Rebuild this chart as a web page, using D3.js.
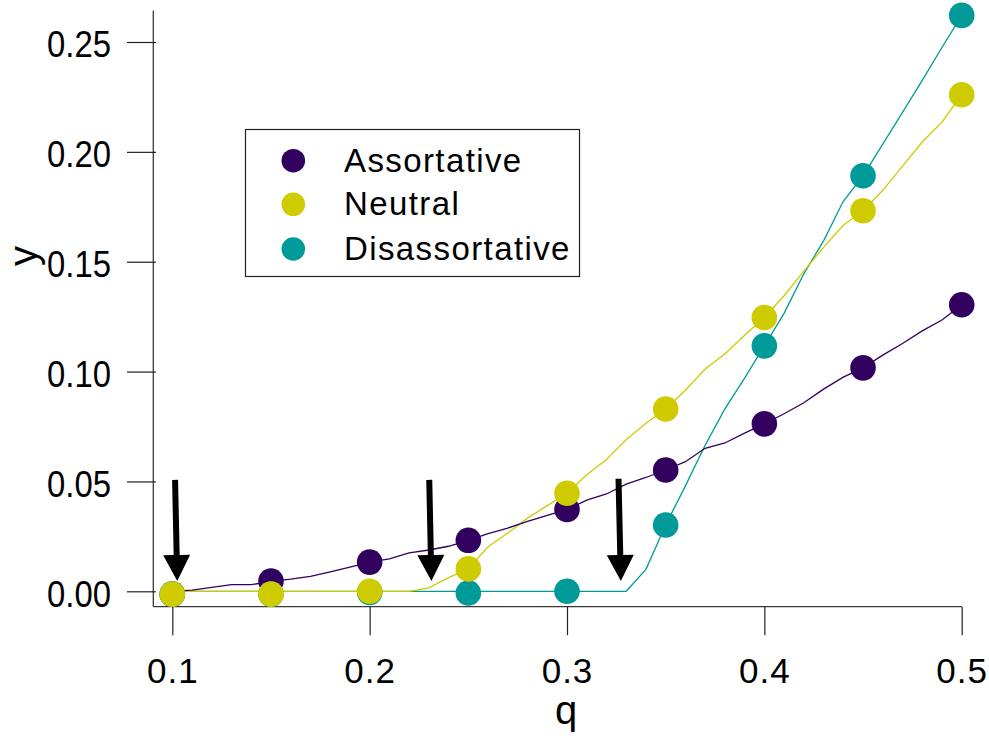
<!DOCTYPE html>
<html>
<head>
<meta charset="utf-8">
<script src="https://cdn.jsdelivr.net/npm/d3@7"></script>
<style>
  body { margin: 0; background: #fff; }
  svg { display: block; font-family: "Liberation Sans", Arial, sans-serif; }
</style>
</head>
<body>
<div class="chart"></div>
<script>
// Set Dimensions
const width = 989, height = 740;

// data - markers
const qDots = [0.10, 0.15, 0.20, 0.25, 0.30, 0.35, 0.40, 0.45, 0.50];
const assortDots = [-0.0013, 0.0047, 0.0133, 0.0232, 0.0372, 0.0552, 0.0762, 0.1017, 0.1304];
const neutralDots = [-0.0013, -0.0013, 0.0, 0.0102, 0.0446, 0.0830, 0.1246, 0.1732, 0.2260];
const disassortDots = [-0.0013, -0.0013, -0.0005, -0.0008, 0.0, 0.0302, 0.1117, 0.1891, 0.2621];

// data - thin lines
const qLine = [0.10, 0.11, 0.12, 0.13, 0.14, 0.15, 0.16, 0.17, 0.18, 0.19,
               0.20, 0.21, 0.22, 0.23, 0.24, 0.25, 0.26, 0.27, 0.28, 0.29,
               0.30, 0.31, 0.32, 0.33, 0.34, 0.35, 0.36, 0.37, 0.38, 0.39,
               0.40, 0.41, 0.42, 0.43, 0.44, 0.45, 0.46, 0.47, 0.48, 0.49, 0.50];
const assortLine = [0.0, 0.0005, 0.0018, 0.0030, 0.0030, 0.0045, 0.0055, 0.0068, 0.0088, 0.0110,
                    0.0133, 0.0148, 0.0175, 0.0188, 0.0205, 0.0232, 0.0262, 0.0288, 0.0318, 0.0345,
                    0.0372, 0.0415, 0.0443, 0.0488, 0.0518, 0.0552, 0.0590, 0.0651, 0.0675, 0.0720,
                    0.0762, 0.0808, 0.0858, 0.0920, 0.0975, 0.1017, 0.1075, 0.1128, 0.1185, 0.1235, 0.1304];
const neutralLine = [0, 0, 0, 0, 0, 0, 0, 0, 0, 0,
                     0, 0, 0, 0.0016, 0.0062, 0.0102, 0.0203, 0.0265, 0.0333, 0.0390,
                     0.0446, 0.0530, 0.0600, 0.0690, 0.0765, 0.0830, 0.0915, 0.1012, 0.1080, 0.1165,
                     0.1246, 0.1345, 0.1457, 0.1565, 0.1666, 0.1732, 0.1825, 0.1935, 0.2045, 0.2135, 0.2260];
const disassortLine = [0, 0, 0, 0, 0, 0, 0, 0, 0, 0,
                       0, 0, 0, 0, 0, 0, 0, 0, 0, 0,
                       0, 0, 0, 0, 0.0100, 0.0302, 0.0480, 0.0665, 0.0830, 0.0970,
                       0.1117, 0.1265, 0.1445, 0.1595, 0.1775, 0.1891, 0.2035, 0.2180, 0.2325, 0.2475, 0.2621];

// arrows (annotation) in data units
const arrowTopQ = [0.1014, 0.2302, 0.3261];
const arrowTipQ = [0.1025, 0.2313, 0.3273];
const arrowTopY = [0.0507, 0.0507, 0.0512];
const arrowTipY = [0.0047, 0.0047, 0.0047];

const xTicks = [0.1, 0.2, 0.3, 0.4, 0.5];
const yTicks = [0.00, 0.05, 0.10, 0.15, 0.20, 0.25];

const seriesNames = ["Assortative", "Neutral", "Disassortative"];
const colors = {Assortative: "#32015f", Neutral: "#cecc00", Disassortative: "#009a98"};

const svg = d3.select(".chart")
    .append("svg")
    .attr("width", width)
    .attr("height", height);

const x = d3.scaleLinear().domain([0.1, 0.5]).range([172.3, 961.7]);
const y = d3.scaleLinear().domain([0, 0.25]).range([591.3, 42]);

// frame lines (left + bottom)
const frameLeft = 153.3, frameBottom = 606.7;
svg.append("line")
    .attr("x1", frameLeft).attr("x2", frameLeft)
    .attr("y1", 10.5).attr("y2", frameBottom)
    .attr("stroke", "#3a3a3a").attr("stroke-width", 1.3);
svg.append("line")
    .attr("x1", frameLeft).attr("x2", x(0.5))
    .attr("y1", frameBottom).attr("y2", frameBottom)
    .attr("stroke", "#3a3a3a").attr("stroke-width", 1.3);

// bottom axis
const gx = svg.append("g")
    .attr("transform", "translate(0," + frameBottom + ")")
    .call(d3.axisBottom(x).tickValues(xTicks).tickSize(28.5).tickPadding(23)
        .tickFormat(d3.format(".1f")));
gx.select(".domain").remove();
gx.selectAll(".tick line").attr("stroke", "#222").attr("stroke-width", 1.2);
gx.selectAll(".tick text")
    .attr("fill", "#000")
    .style("font-size", "35px")
    .style("letter-spacing", "1px");

// left axis
const gy = svg.append("g")
    .attr("transform", "translate(156,0)")
    .call(d3.axisLeft(y).tickValues(yTicks).tickSize(29).tickPadding(16)
        .tickFormat(d3.format(".2f")));
gy.select(".domain").remove();
gy.selectAll(".tick line").attr("stroke", "#222").attr("stroke-width", 1.2);
gy.selectAll(".tick text")
    .attr("fill", "#000")
    .attr("dy", "0.4em")
    .attr("textLength", 64)
    .attr("lengthAdjust", "spacingAndGlyphs")
    .style("font-size", "37px");

// axis titles
svg.append("text")
    .attr("x", 566).attr("y", 724)
    .attr("text-anchor", "middle")
    .style("font-size", "40px")
    .text("q");
svg.append("text")
    .attr("transform", "translate(37,256) rotate(-90)")
    .attr("text-anchor", "middle")
    .style("font-size", "40px")
    .text("y");

// thin lines
const lineData = {
    Assortative: assortLine,
    Neutral: neutralLine,
    Disassortative: disassortLine
};
const line = d3.line()
    .x(function(d) { return x(d[0]); })
    .y(function(d) { return y(d[1]); });

["Disassortative", "Neutral", "Assortative"].forEach(function(name) {
    svg.append("path")
        .datum(qLine.map(function(q, i) { return [q, lineData[name][i]]; }))
        .attr("fill", "none")
        .attr("stroke", colors[name])
        .attr("stroke-width", 1.3)
        .attr("d", line);
});

// dots
const dotData = {
    Assortative: assortDots,
    Neutral: neutralDots,
    Disassortative: disassortDots
};
["Assortative", "Disassortative", "Neutral"].forEach(function(name) {
    svg.append("g")
        .selectAll("circle")
        .data(qDots.map(function(q, i) { return [q, dotData[name][i]]; }))
        .join("circle")
        .attr("cx", function(d) { return x(d[0]); })
        .attr("cy", function(d) { return y(d[1]); })
        .attr("r", 12.8)
        .attr("fill", colors[name]);
});

// arrows
arrowTopQ.forEach(function(q, i) {
    const x0 = x(q), y0 = y(arrowTopY[i]);
    const x1 = x(arrowTipQ[i]), y1 = y(arrowTipY[i]);
    const len = Math.hypot(x1 - x0, y1 - y0);
    const ux = (x1 - x0) / len, uy = (y1 - y0) / len;
    const px = -uy, py = ux;
    const headLen = 26, headHalf = 13.5, shaftHalf = 3;
    const bx = x1 - ux * headLen, by = y1 - uy * headLen;
    const pts = [
        [x0 + px * shaftHalf, y0 + py * shaftHalf],
        [bx + px * shaftHalf, by + py * shaftHalf],
        [bx + px * headHalf, by + py * headHalf],
        [x1, y1],
        [bx - px * headHalf, by - py * headHalf],
        [bx - px * shaftHalf, by - py * shaftHalf],
        [x0 - px * shaftHalf, y0 - py * shaftHalf]
    ];
    svg.append("path")
        .attr("d", "M" + pts.map(function(p) { return p.join(","); }).join("L") + "Z")
        .attr("fill", "#000");
});

// legend
const legend = svg.append("g");
legend.append("rect")
    .attr("x", 245.5).attr("y", 129.5)
    .attr("width", 334).attr("height", 147)
    .attr("fill", "#fff")
    .attr("stroke", "#222")
    .attr("stroke-width", 1.2);
const legendY = [160.7, 204.3, 249];
seriesNames.forEach(function(name, i) {
    legend.append("circle")
        .attr("cx", 293.3).attr("cy", legendY[i])
        .attr("r", 11.8)
        .attr("fill", colors[name]);
    legend.append("text")
        .attr("x", 344).attr("y", legendY[i] + 11)
        .style("font-size", "33px")
        .style("letter-spacing", "1.4px")
        .text(name);
});
</script>
</body>
</html>
